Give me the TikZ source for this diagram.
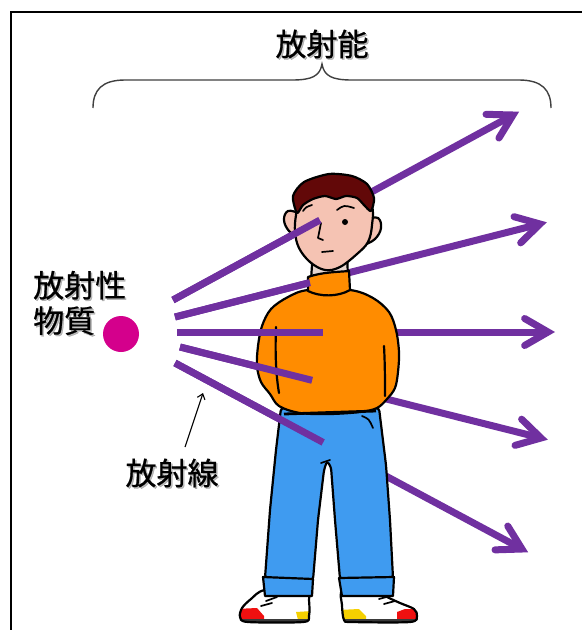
\documentclass[tikz,border=0pt]{standalone}
\usepackage{fontspec}
\newfontfamily\jpfont[FakeBold=0.7]{Noto Sans CJK JP}
\usetikzlibrary{calc,arrows.meta}
\definecolor{raypurple}{HTML}{7030A0}
\definecolor{dotmagenta}{HTML}{D4008C}
\definecolor{sweater}{HTML}{FF8C00}
\definecolor{jeans}{HTML}{3F9BF0}
\definecolor{skin}{HTML}{F5C3B3}
\definecolor{hair}{HTML}{620808}
\definecolor{neckshade}{HTML}{E6D6CF}
\definecolor{shoered}{HTML}{F01010}
\definecolor{shoeyellow}{HTML}{F5D000}
\definecolor{solegray}{HTML}{3A3A3A}
\definecolor{bracegray}{HTML}{404040}

\begin{document}
\begin{tikzpicture}[x=1pt,y=-1pt,
  ray/.style={draw=raypurple,line width=7pt,line cap=butt},
  rayhead/.style={draw=raypurple,line width=7pt,line cap=round,line join=miter},
  ink/.style={draw=black,line width=2.2pt,line join=round,line cap=round},
  thinink/.style={ink,line width=1.7pt},
  jptext/.style={font=\jpfont\fontsize{31}{35.5}\selectfont,inner sep=0pt,text=black},
  jpshadow/.style={jptext,text=black!50,opacity=0.55},
]
\useasboundingbox (0,0) rectangle (582,630);
\fill[white] (0,0) rectangle (582,630);

% frame
\draw[line width=1.5pt] (11,630) -- (11,12) -- (582,12);

% brace and title
\draw[bracegray,line width=1.4pt] (93,108) .. controls (93,90) and (102,80) .. (125,80)
  -- (292,80) .. controls (312,80) and (320,76) .. (322,64)
  .. controls (324,76) and (332,80) .. (352,80)
  -- (519,80) .. controls (542,80) and (551,90) .. (551,108);
\node[jpshadow] (titleshadow) at (323.5,45.5) {放射能};
\node[jptext] (title) at (322,44) {放射能};

% ray end points
\coordinate (s1) at (173,300); \coordinate (t1) at (513,115);
\coordinate (s2) at (175,317); \coordinate (t2) at (540,224);
\coordinate (s3) at (177,332); \coordinate (t3) at (548,332);
\coordinate (s4) at (180,347); \coordinate (t4) at (541,438);
\coordinate (s5) at (175,363); \coordinate (t5) at (522,549);

% rays passing behind the figure
\foreach \i in {1,...,5}{
  \draw[ray] (s\i) -- (t\i);
  \draw[rayhead] ($(t\i)!27pt!30:(s\i)$) -- (t\i) -- ($(t\i)!27pt!-30:(s\i)$);
}

% left shoe
\begin{scope}
  \clip plot[smooth cycle,tension=0.5] coordinates {(265,590) (251,599) (242,608) (240,617) (248,622) (303,622) (309,616) (309,600) (306,590)};
  \fill[white] (235,585) rectangle (315,626);
  \fill[shoered] (235,609) -- (257,608) -- (264,616) -- (264,626) -- (235,626) -- cycle;
  \fill[shoeyellow] (296,612) -- (312,611) -- (312,620) -- (298,620) -- cycle;
  \fill[solegray] (235,619) rectangle (315,626);
\end{scope}
\draw[ink] plot[smooth cycle,tension=0.5] coordinates {(265,590) (251,599) (242,608) (240,617) (248,622) (303,622) (309,616) (309,600) (306,590)};
\draw[thinink] (266,601) -- (277,597) (261,606) -- (272,603);

% right shoe
\begin{scope}
  \clip plot[smooth cycle,tension=0.5] coordinates {(343,590) (342,605) (344,620) (352,622) (410,622) (417,616) (414,609) (400,603) (385,596) (375,590)};
  \fill[white] (338,585) rectangle (420,626);
  \fill[shoeyellow] (338,610) -- (359,609) -- (366,616) -- (366,626) -- (338,626) -- cycle;
  \fill[shoered] (397,626) -- (397,612) -- (405,609) -- (420,609) -- (420,626) -- cycle;
  \fill[solegray] (338,619) rectangle (420,626);
\end{scope}
\draw[ink] plot[smooth cycle,tension=0.5] coordinates {(343,590) (342,605) (344,620) (352,622) (410,622) (417,616) (414,609) (400,603) (385,596) (375,590)};
\draw[thinink] (379,599) -- (390,596) (384,604) -- (395,601);

% jeans
\draw[ink,fill=jeans,rounded corners=3pt] (281,408) -- (276,450) -- (270,510) -- (265,578)
  -- (313,580) -- (318,520) -- (324,470) -- (327,461) -- (331,467) -- (335,520)
  -- (340,579) -- (393,578) -- (390,520) -- (386,465) -- (379,408) -- cycle;
\draw[ink,fill=jeans] (263,577) -- (313,579) -- (312,596) -- (265,596) -- cycle;
\draw[ink,fill=jeans] (339,578) -- (394,577) -- (393,596) -- (342,596) -- cycle;
\draw[thinink] (321,463) -- (330,460);
\draw[thinink] (362,416) .. controls (369,419) .. (373,428);

% sweater
\draw[ink,fill=sweater] plot[smooth cycle,tension=0.55] coordinates {(308,290) (288,297) (271,309) (262,326) (258,346) (257,366) (261,382) (270,394) (279,406) (300,413) (330,414) (360,412) (377,408) (387,399) (395,388) (398,372) (399,352) (396,330) (389,312) (373,298) (350,290)};
\draw[line width=2.8pt] (284,414) -- (376,411);
\draw[ink] (276,327) .. controls (275,355) and (276,375) .. (279,393);
\draw[ink] (384,346) .. controls (385,365) and (385,380) .. (385,396);

% neck and collar
\draw[ink,fill=neckshade] (313,250) -- (311,280) -- (348,280) -- (347,250) -- cycle;
\draw[ink,fill=sweater] (308,277) .. controls (322,272) and (338,272) .. (349,271) -- (350,290)
  .. controls (338,297) and (320,297) .. (308,291) -- cycle;

% ears
\draw[ink,fill=skin] plot[smooth,tension=0.7] coordinates {(298,213) (288,211) (284,220) (289,231) (299,238)} -- cycle;
\draw[ink,fill=skin] plot[smooth,tension=0.7] coordinates {(368,219) (378,218) (381,228) (375,239) (364,245)} -- cycle;

% face
\draw[ink,fill=skin] plot[smooth cycle,tension=0.6] coordinates {(300,200) (296,215) (295,232) (299,248) (310,262) (325,270) (340,267) (357,254) (368,242) (372,225) (371,205) (350,190) (320,190)};

% hair
\draw[ink,fill=hair] plot[smooth cycle,tension=0.45] coordinates {(297,213) (293,196) (304,182) (329,174) (352,176) (367,184) (374,198) (371,211) (364,205) (357,198) (346,196) (336,199) (325,196) (313,199) (303,205)};

% facial features
\draw[thinink] (303,211) .. controls (306,207) .. (312,205);
\draw[thinink] (337,210) .. controls (344,205) .. (354,208);
\fill (345,222) circle (3pt);
\draw[thinink] (321,223) -- (318,238) -- (323,240);
\draw[thinink] (322,252) -- (333,251);

% rays in front of the figure
\foreach \i/\f in {1/0.432,2/0.37,3/0.394,4/0.366,5/0.427}
  \draw[ray] (s\i) -- ($(s\i)!\f!(t\i)$);

% radioactive source
\node[circle,fill=dotmagenta,minimum size=36pt,inner sep=0pt] (source) at (121,334) {};
\node[jpshadow,align=left,anchor=west] (substanceshadow) at (34.5,304.5) {放射性\\物質};
\node[jptext,align=left,anchor=west] (substance) at (33,303) {放射性\\物質};

% radiation label with pointer
\node[jpshadow] (raylabelshadow) at (173.5,474.5) {放射線};
\node[jptext] (raylabel) at (172,473) {放射線};
\coordinate (pointtail) at (185,447);
\coordinate (pointtip) at (203,393);
\draw[line width=1.1pt,-{Straight Barb[length=5pt,width=8pt]}] (pointtail) -- (pointtip);
\end{tikzpicture}
\end{document}
